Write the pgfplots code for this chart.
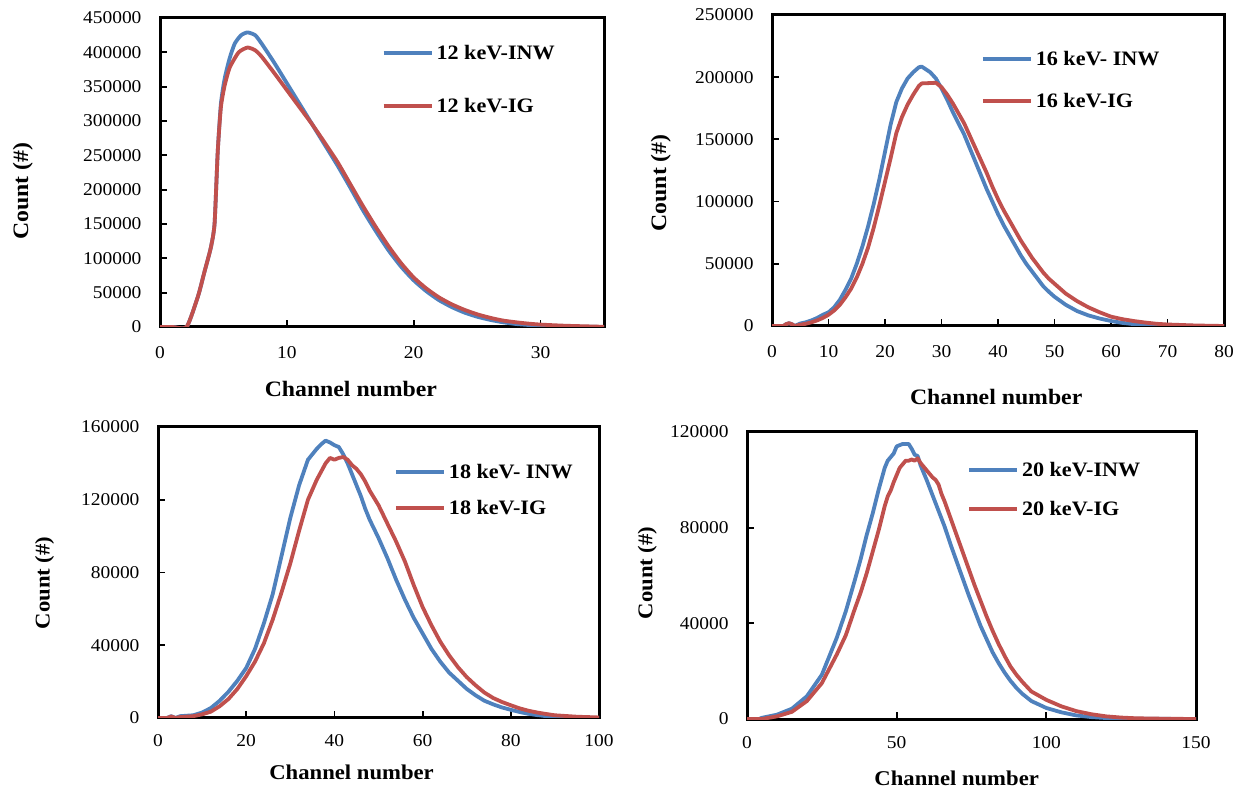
\documentclass[border=0pt]{standalone}
\usepackage{pgfplots}
\pgfplotsset{compat=1.18}
\usepackage{fontspec}
\setmainfont{Liberation Serif}[FakeStretch=1.08]
\definecolor{cblue}{RGB}{79,129,189}
\definecolor{cred}{RGB}{192,80,77}
\pgfplotsset{
  panel/.style={
    scale only axis, anchor=south west,
    axis line style={line width=3pt, line cap=rect},
    tick style={line width=1.8pt, black},
    major tick length=7pt, tick align=inside,
    xtick pos=bottom, ytick pos=left,
    /pgf/number format/.cd, fixed, 1000 sep={}, assume math mode=true, /pgfplots/.cd,
    scaled y ticks=false, scaled x ticks=false,
    tick label style={font=\fontsize{18}{18}\selectfont},
    yticklabel style={xshift=-15pt},
    label style={font=\bfseries\fontsize{22}{22}\selectfont},
    xlabel={Channel number}, ylabel={Count (\#)},
    legend cell align=left,
    legend image code/.code={\draw[##1, line width=4pt] (0pt,0pt) -- (48pt,0pt);},
    every axis plot/.append style={line width=3.8pt, line join=round},
  },
  leg/.style n args={3}{legend style={at={(axis description cs:#1,#2)}, anchor=west,
    draw=none, fill=none, inner sep=0pt, outer sep=0pt, row sep=#3, column sep=3pt,
    font=\bfseries\fontsize{20.5}{20.5}\selectfont,
    nodes={inner sep=0pt, text height=14pt, text depth=0pt}}},
}
\begin{document}
\begin{tikzpicture}
\path[use as bounding box] (0pt,0pt) rectangle (1233pt,789pt);
% Panel 1
\begin{axis}[panel, at={(160pt,462pt)}, width=444pt, height=309pt,
  xmin=0, xmax=35, ymin=0, ymax=450000, xtick={0,10,20,30}, ytick distance=50000,
  xticklabel style={yshift=-16pt},
  xlabel style={at={(axis description cs:0.43,-0.2)}, anchor=center},
  ylabel style={at={(axis description cs:-0.309,0.44)}, anchor=center},
  leg={0.499}{0.801}{39pt}]
\addplot[cblue, smooth, tension=0.35] coordinates {(0,0)(1,0)(2.1,0)(3,45000)(3.5,80000)(4,115000)(4.3,150000)(4.55,255000)(4.8,325000)(5.1,362000)(5.5,392000)(5.9,413000)(6.4,425000)(6.9,429000)(7.5,425000)(8,413000)(9,385000)(10,355000)(11,325000)(12,295000)(13,265000)(14,235000)(15,203000)(16,170000)(17,140000)(18,112000)(19,88000)(20,68000)(21,52000)(22,39000)(23,29000)(24,21000)(25,15000)(26,10500)(27,7000)(28,4500)(29,3000)(30,2000)(32,800)(35,0)};
\addlegendentry{12 keV-INW}
\addplot[cred, smooth, tension=0.35] coordinates {(0,0)(1,0)(2.1,0)(3,45000)(3.5,80000)(4,115000)(4.3,150000)(4.55,255000)(4.8,320000)(5.1,352000)(5.5,378000)(6.2,400000)(6.9,407000)(7.5,403000)(8,394000)(9,370000)(10,345000)(11,320000)(12,295000)(13,268000)(14,240000)(15,208000)(16,176000)(17,146000)(18,118000)(19,93000)(20,72000)(21,56000)(22,43000)(23,33000)(24,25000)(25,18500)(26,13500)(27,9500)(28,7000)(29,5000)(30,3500)(32,1800)(35,300)};
\addlegendentry{12 keV-IG}
\end{axis}
% Panel 2
\begin{axis}[panel, at={(772pt,463pt)}, width=452pt, height=311pt,
  xmin=0, xmax=80, ymin=0, ymax=250000, xtick distance=10, ytick distance=50000,
  xticklabel style={yshift=-16pt},
  xlabel style={at={(axis description cs:0.496,-0.228)}, anchor=center},
  ylabel style={at={(axis description cs:-0.246,0.46)}, anchor=center},
  leg={0.462}{0.791}{28pt}]
\addplot[cblue] coordinates {(0,0)(2,0)(2.5,1500)(3,2200)(3.5,1500)(4,0)(5,2000)(6,3000)(7,4500)(8,6500)(9,9000)(10,11000)(11,15000)(12,21000)(13,29000)(14,38000)(15,50000)(16,64000)(17,80000)(18,98000)(19,118000)(20,140000)(21,162000)(22,180000)(23,191000)(24,199000)(25,204000)(26,208000)(26.5,208500)(27,207000)(28,204000)(29,199000)(30,191000)(31,182000)(32,172000)(33,163000)(34,154000)(35,143000)(36,132000)(37,121000)(38,110000)(39,100000)(40,90000)(41,81000)(42,73000)(43,65000)(44,57000)(45,50000)(46,44000)(47,38000)(48,32000)(49,27500)(50,23500)(52,17000)(54,12000)(56,8500)(58,6000)(60,4000)(62,2500)(64,1500)(66,800)(70,300)(75,50)(80,0)};
\addlegendentry{16 keV- INW}
\addplot[cred] coordinates {(0,0)(2,0)(2.5,1500)(3,2200)(3.5,1500)(4,0)(5,1000)(6,1800)(7,3000)(8,4500)(9,6500)(10,9000)(11,12500)(12,17000)(13,23000)(14,30000)(15,39000)(16,50000)(17,63000)(18,79000)(19,97000)(20,116000)(21,135000)(22,155000)(23,168000)(24,178000)(25,186000)(26,193000)(26.5,195000)(29,195500)(30,192000)(31,186000)(32,179000)(33,171000)(34,163000)(35,153000)(36,143000)(37,133000)(38,123000)(39,112000)(40,102000)(41,93000)(42,85000)(43,77000)(44,69000)(45,62000)(46,55000)(47,49000)(48,43000)(49,38000)(50,34000)(52,26000)(54,20000)(56,15000)(58,11000)(60,7500)(62,5500)(64,4000)(66,2800)(68,1800)(70,1200)(75,400)(80,0)};
\addlegendentry{16 keV-IG}
\end{axis}
% Panel 3
\begin{axis}[panel, at={(158pt,71pt)}, width=441pt, height=291pt,
  xmin=0, xmax=100, ymin=0, ymax=160000, xtick distance=20, ytick distance=40000,
  xticklabel style={yshift=-13pt},
  xlabel style={at={(axis description cs:0.439,-0.186)}, anchor=center},
  ylabel style={at={(axis description cs:-0.257,0.464)}, anchor=center},
  label style={font=\bfseries\fontsize{21}{21}\selectfont},
  leg={0.535}{0.784}{22pt}]
\addplot[cblue] coordinates {(0,0)(2,0)(3,1000)(4,0)(5,1000)(8,1500)(10,3000)(12,5500)(14,9500)(16,14500)(18,20500)(20,27500)(22,38000)(24,52000)(26,68000)(28,89000)(30,110000)(32,128000)(34,142000)(36,148000)(37,150500)(38,152500)(39,151500)(40,150000)(41,149000)(42,145000)(43,140000)(44,134000)(45,128000)(46,122000)(47,115000)(48,109000)(50,99000)(52,88000)(54,76000)(56,65000)(58,55000)(60,46500)(62,38000)(64,31000)(66,25000)(68,20500)(70,16000)(72,12500)(74,9500)(76,7500)(78,5800)(80,4500)(82,3300)(84,2300)(86,1600)(88,1000)(90,600)(95,200)(100,0)};
\addlegendentry{18 keV- INW}
\addplot[cred] coordinates {(0,0)(2,0)(3,800)(4,0)(5,500)(8,1000)(10,2000)(12,3500)(14,6500)(16,10500)(18,16000)(20,23000)(22,31000)(24,41000)(26,54000)(28,69000)(30,85000)(32,103000)(34,120000)(36,131000)(38,140000)(39,143000)(40,142000)(41,143000)(42,143500)(43,142000)(44,139000)(45,137000)(46,134000)(47,130000)(48,125000)(49,121000)(50,117000)(52,107000)(54,97000)(56,86000)(58,73000)(60,61000)(62,51000)(64,42000)(66,34500)(68,28000)(70,22500)(72,18000)(74,14000)(76,11000)(78,8800)(80,7000)(82,5300)(84,4000)(86,3000)(88,2200)(90,1500)(95,700)(100,300)};
\addlegendentry{18 keV-IG}
\end{axis}
% Panel 4
\begin{axis}[panel, at={(747pt,70pt)}, width=449pt, height=287pt,
  xmin=0, xmax=150, ymin=0, ymax=120000, xtick distance=50, ytick distance=40000,
  xticklabel style={yshift=-14pt},
  xlabel style={at={(axis description cs:0.467,-0.207)}, anchor=center},
  ylabel style={at={(axis description cs:-0.222,0.509)}, anchor=center},
  label style={font=\bfseries\fontsize{21}{21}\selectfont},
  leg={0.49}{0.8}{25pt}]
\addplot[cblue] coordinates {(0,0)(4,0)(5,500)(10,1800)(15,4300)(20,9500)(25,18500)(30,34000)(33,45000)(36,58000)(38,67000)(40,77000)(42,86000)(44,96000)(46,105000)(47,108000)(48,109500)(49,111000)(50,114000)(52,115000)(54,115000)(55,113000)(56,110500)(57,110000)(58,106000)(60,100000)(62,93500)(64,87000)(66,80500)(68,73000)(70,66000)(72,59000)(74,52000)(76,45500)(78,39000)(80,33500)(82,28000)(84,23500)(86,19500)(88,16000)(90,13000)(92,10500)(95,7500)(100,4600)(105,2800)(110,1500)(115,800)(120,400)(130,100)(150,0)};
\addlegendentry{20 keV-INW}
\addplot[cred] coordinates {(0,0)(5,0)(10,1100)(15,3000)(20,7500)(25,15000)(30,27000)(33,35000)(36,46000)(38,53000)(40,61000)(42,70000)(44,79000)(46,89000)(47,93000)(48,95500)(49,99000)(50,102000)(51,105000)(52,106500)(53,108000)(54,108000)(55,108500)(56,108000)(57,109000)(58,107000)(60,104000)(62,101000)(63,100000)(64,98000)(65,94000)(66,91000)(68,84000)(70,77000)(72,70000)(74,63000)(76,56000)(78,49500)(80,43000)(82,37000)(84,31500)(86,26500)(88,22000)(90,18500)(92,15500)(95,11500)(100,8000)(105,5300)(110,3300)(115,2000)(120,1100)(125,600)(130,300)(140,100)(150,0)};
\addlegendentry{20 keV-IG}
\end{axis}
\end{tikzpicture}
\end{document}
